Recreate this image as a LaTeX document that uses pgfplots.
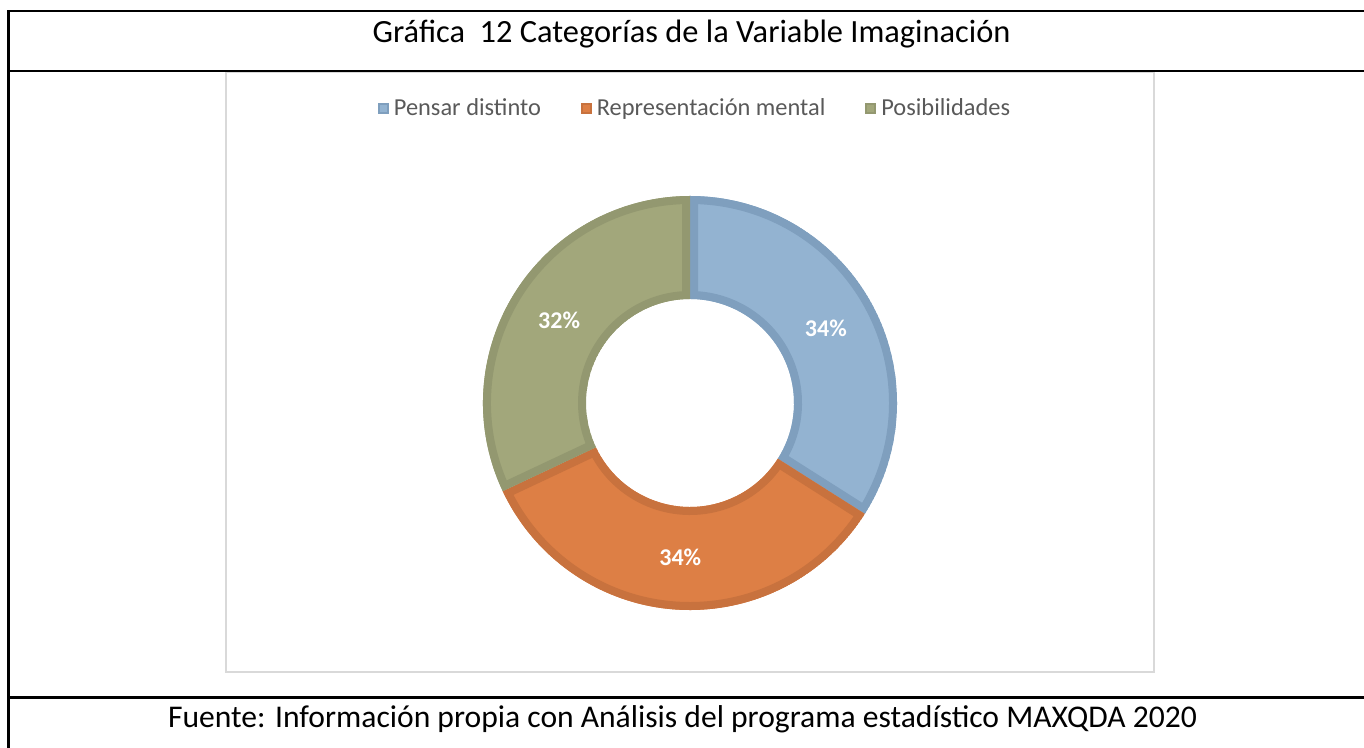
\documentclass[border=0pt]{standalone}
\usepackage{pgfplots}
\pgfplotsset{compat=1.18}
\usepackage{pgfplotstable}
\usepackage{fontspec}
\setmainfont{Carlito}
\definecolor{blueF}{HTML}{93B3D1}
\definecolor{blueB}{HTML}{7F9FBE}
\definecolor{orangeF}{HTML}{DD7F45}
\definecolor{orangeB}{HTML}{C8723E}
\definecolor{greenF}{HTML}{A2A77B}
\definecolor{greenB}{HTML}{939870}
\definecolor{legtext}{HTML}{595959}
\definecolor{boxgray}{HTML}{D9D9D9}
\pgfplotsset{sqleg/.style={legend image code/.code={\filldraw[##1, line width=1pt] (0.5pt,-2.25pt) rectangle (5pt,2.25pt);}}}
\pgfplotstableread{
idx value
0 34
1 34
2 32
}\donutdata
\begin{document}
\begin{tikzpicture}[x=0.5pt,y=0.5pt]
\useasboundingbox (0,0) rectangle (1364,748);
% chart area box
\draw[boxgray, line width=1pt] (226,676) rectangle (1154,76);
\begin{axis}[at={(0,0)}, anchor=south west, width=682pt, height=374pt, scale only axis,
  xmin=0, xmax=1364, ymin=0, ymax=748, hide axis, clip=false,
  legend style={draw=none, fill=none, legend columns=-1, at={(axis cs:696,639)}, anchor=center,
    font=\fontsize{12.2}{14}\selectfont, text=legtext,
    /tikz/every odd column/.append style={column sep=0.5pt},
    /tikz/every even column/.append style={column sep=18pt}},
  legend cell align=left]
\addlegendimage{sqleg, fill=blueF, draw=blueB}
\addlegendentry{Pensar distinto}
\addlegendimage{sqleg, fill=orangeF, draw=orangeB}
\addlegendentry{Representación mental}
\addlegendimage{sqleg, fill=greenF, draw=greenB}
\addlegendentry{Posibilidades}
\pgfplotsextra{
  \gdef\cum{0}
  \foreach \i/\fc/\bc in {0/blueF/blueB,1/orangeF/orangeB,2/greenF/greenB}{
    \pgfplotstablegetelem{\i}{value}\of\donutdata
    \let\val\pgfplotsretval
    \pgfmathsetmacro\aS{90-3.6*\cum}
    \pgfmathsetmacro\aE{90-3.6*(\cum+\val)}
    \pgfmathsetmacro\aM{(\aS+\aE)/2}
    \pgfmathsetmacro\xa{690+207*cos(\aS)}
    \pgfmathsetmacro\ya{345+207*sin(\aS)}
    \pgfmathsetmacro\xb{690+104*cos(\aE)}
    \pgfmathsetmacro\yb{345+104*sin(\aE)}
    \pgfmathsetmacro\xm{690+155*cos(\aM)}
    \pgfmathsetmacro\ym{345+155*sin(\aM)}
    \begin{scope}
      \clip (axis cs:\xa,\ya) arc[start angle=\aS, end angle=\aE, radius=103.5pt]
        -- (axis cs:\xb,\yb) arc[start angle=\aE, end angle=\aS, radius=52pt] -- cycle;
      \fill[\fc] (axis cs:\xa,\ya) arc[start angle=\aS, end angle=\aE, radius=103.5pt]
        -- (axis cs:\xb,\yb) arc[start angle=\aE, end angle=\aS, radius=52pt] -- cycle;
      \draw[\bc, line width=8pt] (axis cs:\xa,\ya) arc[start angle=\aS, end angle=\aE, radius=103.5pt]
        -- (axis cs:\xb,\yb) arc[start angle=\aE, end angle=\aS, radius=52pt] -- cycle;
    \end{scope}
    \node[text=white, font=\bfseries\fontsize{12}{14}\selectfont] at (axis cs:\xm,\ym) {\val\%};
    \pgfmathsetmacro\newcum{\cum+\val}
    \xdef\cum{\newcum}
  }
}
\end{axis}
% frame lines
\draw[black, line width=1.2pt] (8,737) -- (1364,737);
\draw[black, line width=1.2pt] (8,677) -- (1364,677);
\draw[black, line width=1.2pt] (8,50.5) -- (1364,50.5);
\draw[black, line width=1.5pt] (8.5,737.6) -- (8.5,0);
% title and source
\node[font=\fontsize{16.2}{18}\selectfont] at (691.5,714) {Gráfica~ 12 Categorías de la Variable Imaginación};
\node[font=\fontsize{15.8}{18}\selectfont] at (682.5,29) {Fuente: Información propia con Análisis del programa estadístico MAXQDA 2020};
\end{tikzpicture}
\end{document}
